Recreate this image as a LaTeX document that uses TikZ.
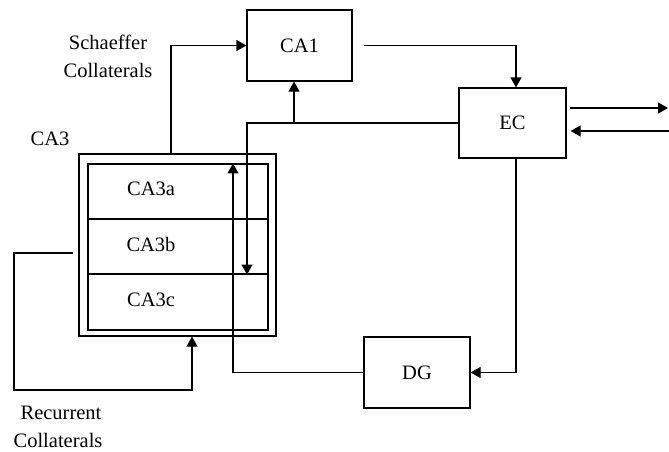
\documentclass[tikz,border=0pt]{standalone}
\usepackage{fontspec}
\setmainfont{Liberation Serif}
\usetikzlibrary{arrows.meta,calc}
\begin{document}
\begin{tikzpicture}[x=1pt,y=-1pt,
  line width=1.2pt,
  txt/.style={font=\fontsize{20.5}{28}\selectfont, inner sep=0pt},
  box/.style={draw, rectangle, inner sep=0pt, font=\fontsize{20.5}{27}\selectfont},
  arr/.style={-{Triangle[length=10pt,width=11pt]}}]
\useasboundingbox (0,0) rectangle (669,451);
% boxes
\node[box, minimum width=105pt, minimum height=71pt] (ca1) at (299.5,45.5) {CA1};
\node[box, minimum width=107pt, minimum height=70pt] (ec) at (512.5,123) {EC};
\node[box, minimum width=106pt, minimum height=71pt] (dg) at (417,372.5) {DG};
\node[box, minimum width=197pt, minimum height=182pt] (outer) at (177.5,245) {};
\node[box, minimum width=180pt, minimum height=55pt] (a) at (178,191.5) {};
\node[box, minimum width=180pt, minimum height=55pt] (b) at (178,246.5) {};
\node[box, minimum width=180pt, minimum height=56pt] (c) at (178,302) {};
\node[txt] (ta) at (151,189) {CA3a};
\node[txt] (tb) at (151,244) {CA3b};
\node[txt] (tc) at (151,300) {CA3c};
\node[txt] (ca3) at (50,139) {CA3};
\node[txt, align=center] (sch) at (108,56) {Schaeffer\\Collaterals};
\node[txt, align=left, anchor=north west] (rec) at (13,405) {\hspace*{7pt}Recurrent\\Collaterals};
% coordinates
\coordinate (ecx) at (516,0);
\coordinate (ca1o) at ([xshift=11pt]ca1.east);
\coordinate (bctip) at (b.south -| 247,0);
\coordinate (atip) at (a.north -| 233,0);
\coordinate (outR) at (668,108);
\coordinate (inR) at (669,131);
\coordinate (recS) at (73,253);
\coordinate (recL) at (14,253);
\coordinate (recB) at (14,390);
% connectors
\draw[arr] ([xshift=-6.5pt]outer.north) |- (ca1.west);
\draw[arr] (ca1o) -| (ec.north -| ecx);
\draw[arr] (ec.west) -| (bctip);
\draw[arr] (ec.west -| 294,0) -- (ca1.south -| 294,0);
\draw[arr] (dg.west) -| (atip);
\draw[arr] (ec.south -| ecx) |- (dg.east);
\draw[arr] ([xshift=3pt,yshift=15pt]ec.east) -- (outR);
\draw[arr] (inR) -- ([xshift=4pt]ec.east |- inR);
\draw[arr] (recS) -- (recL) -- (recB) -| ([xshift=14.5pt]outer.south);
\end{tikzpicture}
\end{document}
